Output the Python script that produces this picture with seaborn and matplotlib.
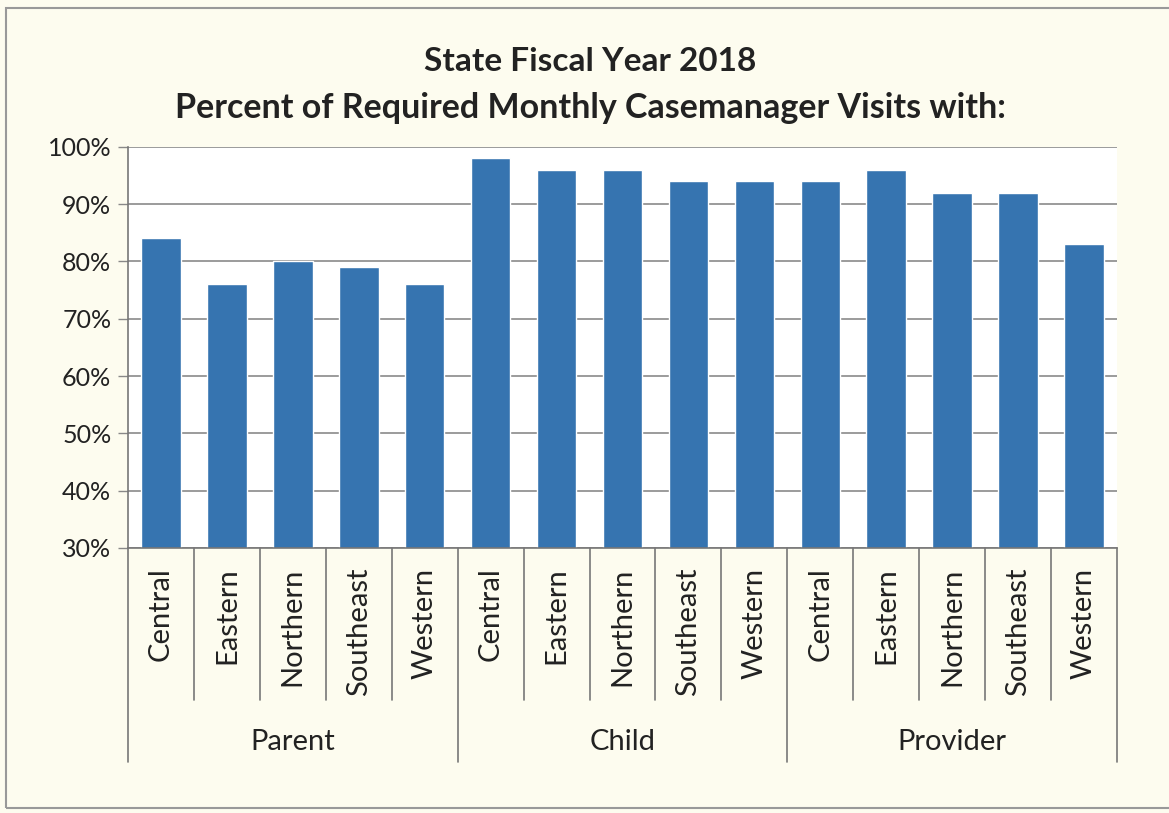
import pandas as pd
import matplotlib.pyplot as plt
import seaborn as sns
from matplotlib.patches import Rectangle

# Chart data
groups = ['Parent', 'Child', 'Provider']
regions = ['Central', 'Eastern', 'Northern', 'Southeast', 'Western']
parent_pct = [84, 76, 80, 79, 76]
child_pct = [98, 96, 96, 94, 94]
provider_pct = [94, 96, 92, 92, 83]
y_ticks = [30, 40, 50, 60, 70, 80, 90, 100]

# Build long-form table
rows = []
for g, vals in zip(groups, [parent_pct, child_pct, provider_pct]):
    for r, v in zip(regions, vals):
        rows.append({'Group': g, 'Region': r, 'Slot': g + ' ' + r, 'Pct': v})
df = pd.DataFrame(rows)

sns.set_style('white')
plt.rcParams['font.family'] = ['Lato', 'DejaVu Sans']

bg = '#fdfcef'
fig = plt.figure(figsize=(11.69, 8.13), dpi=100, facecolor=bg)
ax = fig.add_axes([0.1095, 0.326, 0.846, 0.4935])
ax.set_facecolor('white')

sns.barplot(data=df, x='Slot', y='Pct', order=list(df['Slot']),
            color='#3674b0', width=0.6, saturation=1, ax=ax)

ax.set_ylim(30, 100)
ax.set_xlim(-0.5, len(df) - 0.5)
ax.set_yticks(y_ticks)
ax.set_yticklabels([f'{t}%' for t in y_ticks], fontsize=18, color='#222222')
ax.set_xticks(range(len(df)))
ax.set_xticklabels(list(df['Region']), rotation=90, fontsize=21, color='#222222')
ax.tick_params(axis='x', length=0, pad=14)
ax.tick_params(axis='y', length=7, width=1, color='#888888', pad=5, left=True)
ax.set_xlabel('')
ax.set_ylabel('')

ax.grid(axis='y', color='#8a8a8a', linewidth=1.2)
ax.set_axisbelow(True)
for side in ['top', 'right']:
    ax.spines[side].set_visible(False)
for side in ['left', 'bottom']:
    ax.spines[side].set_color('#777777')
    ax.spines[side].set_linewidth(1.2)

# category separators and group boundaries below the axis
trans = ax.get_xaxis_transform()
n_per = len(regions)
for i in range(len(df) + 1):
    x = i - 0.5
    bottom = -0.534 if i % n_per == 0 else -0.379
    ax.plot([x, x], [0, bottom], color='#777777', lw=1.2,
            transform=trans, clip_on=False)
for k, g in enumerate(groups):
    ax.text(k * n_per + (n_per - 1) / 2, -0.484, g, transform=trans,
            ha='center', va='center', fontsize=21, color='#222222')

fig.text(0.505, 0.924, 'State Fiscal Year 2018', ha='center', va='center',
         fontsize=24, fontweight='bold', color='#222222')
fig.text(0.505, 0.867, 'Percent of Required Monthly Casemanager Visits with:',
         ha='center', va='center', fontsize=24.5, fontweight='bold', color='#222222')

# outer chart border
fig.patches.append(Rectangle((6 / 1169, 5 / 813), 1.2, 1 - 13 / 813,
                             transform=fig.transFigure, fill=False,
                             edgecolor='#999999', lw=1.5))

fig.savefig('out.png', dpi=100, facecolor=bg)
